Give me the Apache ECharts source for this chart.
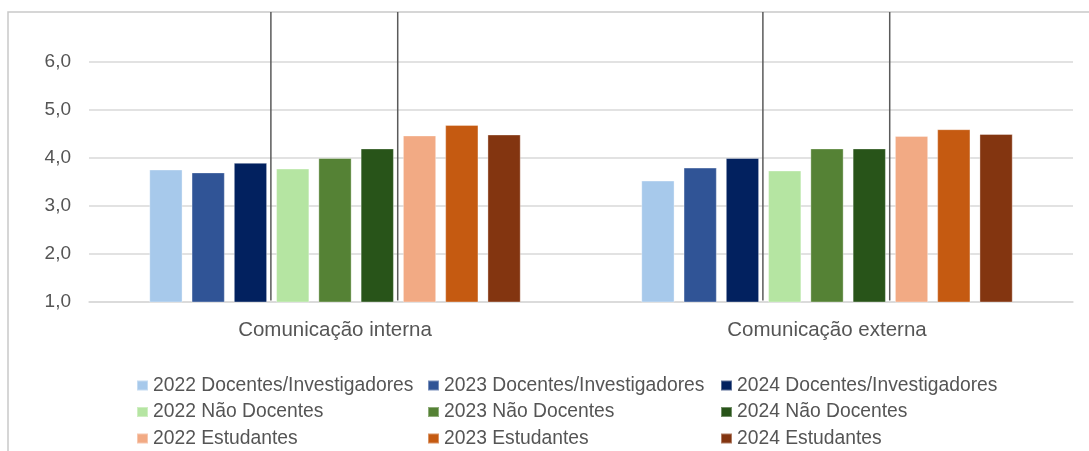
<!DOCTYPE html>
<html>
<head>
<meta charset="utf-8">
<script src="https://cdn.jsdelivr.net/npm/echarts@6/dist/echarts.min.js"></script>
<style>
  html, body { margin: 0; padding: 0; background: #ffffff; }
  #chart { width: 1089px; height: 451px; }
</style>
</head>
<body>
<div id="chart"></div>
<script>
// Categories on the x axis
const categories = ['Comunicação interna', 'Comunicação externa'];

// Average scores per group and year
const docentes2022 = [3.76, 3.53];
const docentes2023 = [3.70, 3.80];
const docentes2024 = [3.90, 4.00];
const naoDocentes2022 = [3.78, 3.74];
const naoDocentes2023 = [4.00, 4.20];
const naoDocentes2024 = [4.20, 4.20];
const estudantes2022 = [4.47, 4.46];
const estudantes2023 = [4.69, 4.60];
const estudantes2024 = [4.49, 4.50];

// Value axis range and step
const yMin = 1;
const yMax = 6;
const yStep = 1;

const seriesDefs = [
  { name: '2022 Docentes/Investigadores', data: docentes2022, color: '#A7C9EB' },
  { name: '2023 Docentes/Investigadores', data: docentes2023, color: '#305496' },
  { name: '2024 Docentes/Investigadores', data: docentes2024, color: '#02215F' },
  { name: '2022 Não Docentes', data: naoDocentes2022, color: '#B5E5A2' },
  { name: '2023 Não Docentes', data: naoDocentes2023, color: '#558235' },
  { name: '2024 Não Docentes', data: naoDocentes2024, color: '#285419' },
  { name: '2022 Estudantes', data: estudantes2022, color: '#F2AA84' },
  { name: '2023 Estudantes', data: estudantes2023, color: '#C55A11' },
  { name: '2024 Estudantes', data: estudantes2024, color: '#833510' }
];

const TEXT = '#555555';
const CAT_GAP = 0.245;   // share of each category band left empty
const BAR_GAP = 0.27;    // gap between bars, relative to bar width
const FRAME_TOP = 12;    // top edge of the chart frame

const chart = echarts.init(document.getElementById('chart'), null, { renderer: 'canvas' });

const barSeries = seriesDefs.map(function (s) {
  return {
    name: s.name,
    type: 'bar',
    data: s.data,
    barGap: (BAR_GAP * 100) + '%',
    barCategoryGap: (CAT_GAP * 100) + '%',
    itemStyle: { color: s.color, borderColor: 'rgba(255,255,255,0.35)', borderWidth: 1 },
    emphasis: { disabled: true },
    z: 2
  };
});

// Vertical separators between the three population groups inside each category
const separatorSeries = {
  type: 'custom',
  name: 'separadores',
  silent: true,
  clip: false,
  z: 5,
  data: categories.map(function (c, i) { return [i]; }),
  encode: { x: 0 },
  renderItem: function (params, api) {
    const base = api.coord([api.value(0), yMin]);
    const band = api.size([1, 0])[0];
    const n = seriesDefs.length;
    const groupW = band * (1 - CAT_GAP);
    const barW = groupW / (n + (n - 1) * BAR_GAP);
    const gap = barW * BAR_GAP;
    const start = base[0] - groupW / 2;
    const children = [3, 6].map(function (k) {
      const x = start + k * barW + (k - 1) * gap + gap / 2 - 0.7;
      return {
        type: 'line',
        shape: { x1: x, y1: FRAME_TOP, x2: x, y2: base[1] - 1.5 },
        style: { stroke: '#5A5A5A', lineWidth: 1.5 }
      };
    });
    return { type: 'group', children: children };
  }
};

function legendColumn(left, names) {
  return {
    orient: 'vertical',
    left: left,
    top: 375.5,
    padding: 0,
    itemWidth: 11,
    itemHeight: 10,
    itemGap: 6.5,
    icon: 'rect',
    selectedMode: false,
    textStyle: {
      color: TEXT,
      fontFamily: 'Liberation Sans, Arial, sans-serif',
      fontSize: 19.3,
      lineHeight: 20
    },
    data: names
  };
}

const option = {
  animation: false,
  backgroundColor: '#ffffff',
  graphic: [
    {
      type: 'rect',
      shape: { x: 8, y: FRAME_TOP, width: 1200, height: 500 },
      style: { fill: 'none', stroke: '#C9C9C9', lineWidth: 1.5 },
      silent: true,
      z: -1
    }
  ],
  grid: { left: 89, right: 16, top: 62, bottom: 149, containLabel: false },
  legend: [
    legendColumn(136, [seriesDefs[0].name, seriesDefs[3].name, seriesDefs[6].name]),
    legendColumn(427, [seriesDefs[1].name, seriesDefs[4].name, seriesDefs[7].name]),
    legendColumn(720, [seriesDefs[2].name, seriesDefs[5].name, seriesDefs[8].name])
  ],
  xAxis: {
    type: 'category',
    data: categories,
    axisLine: { show: true, lineStyle: { color: '#D9D9D9', width: 1.5 } },
    axisTick: { show: false },
    axisLabel: {
      color: TEXT,
      fontFamily: 'Liberation Sans, Arial, sans-serif',
      fontSize: 20.5,
      margin: 18
    }
  },
  yAxis: {
    type: 'value',
    min: yMin,
    max: yMax,
    interval: yStep,
    axisLine: { show: false },
    axisTick: { show: false },
    splitLine: { lineStyle: { color: '#D9D9D9', width: 1.5 } },
    axisLabel: {
      color: TEXT,
      fontFamily: 'Liberation Sans, Arial, sans-serif',
      fontSize: 19,
      margin: 18,
      formatter: function (v) { return v.toFixed(1).replace('.', ','); }
    }
  },
  series: barSeries.concat([separatorSeries])
};

chart.setOption(option);
</script>
</body>
</html>
